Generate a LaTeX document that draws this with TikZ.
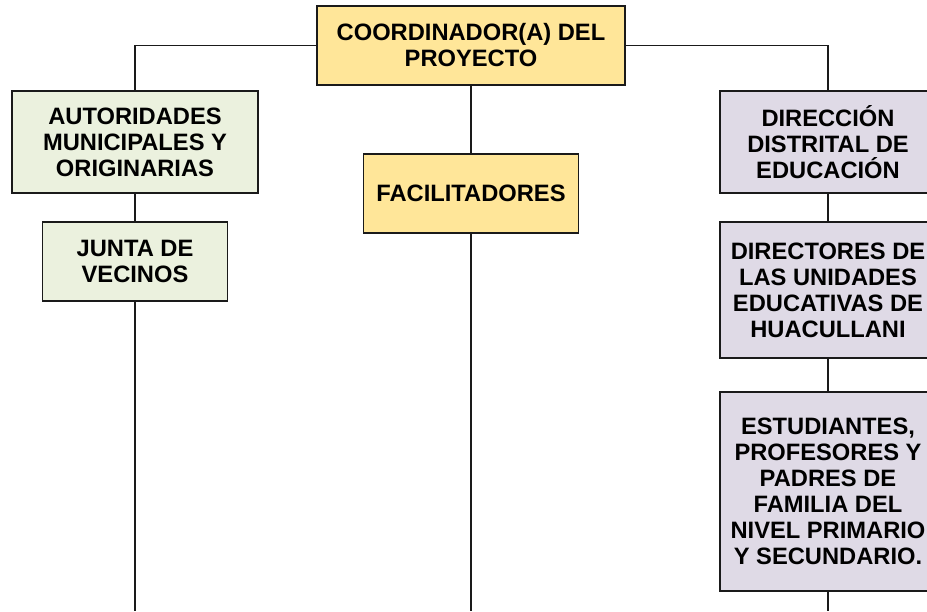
\documentclass[tikz,border=0pt]{standalone}
\usepackage{fontspec}
\setmainfont{Liberation Sans}
\definecolor{goldfill}{HTML}{FFE699}
\definecolor{greenfill}{HTML}{EBF1DE}
\definecolor{lavfill}{HTML}{DFDAE6}
\definecolor{edge}{HTML}{1A1A1A}
\tikzset{
  orgbox/.style={draw=edge, line width=1.2pt, rectangle, inner sep=0pt, align=center,
    font=\fontsize{23.7}{26}\selectfont\bfseries},
  gold/.style={orgbox, fill=goldfill},
  green/.style={orgbox, fill=greenfill},
  lav/.style={orgbox, fill=lavfill},
  link/.style={draw=edge, line width=1.2pt}
}
\begin{document}
\begin{tikzpicture}[x=1pt,y=-1pt]
\useasboundingbox (0,0) rectangle (927,611);
\clip (0,0) rectangle (927,611);
\node[gold, minimum width=308pt, minimum height=79pt] (coord) at (471,45.5) {COORDINADOR(A) DEL\\PROYECTO};
\node[green, minimum width=246pt, minimum height=102pt] (aut) at (135,142) {AUTORIDADES\\MUNICIPALES Y\\ORIGINARIAS};
\node[green, minimum width=185pt, minimum height=79pt] (junta) at (135,261.5) {JUNTA DE\\VECINOS};
\node[gold, minimum width=215pt, minimum height=79pt] (fac) at (471,193.5) {FACILITADORES};
\node[lav, minimum width=216pt, minimum height=102pt] (dir) at (828,142) {DIRECCIÓN\\DISTRITAL DE\\EDUCACIÓN};
\node[lav, minimum width=216pt, minimum height=136pt] (dirs) at (828,290) {DIRECTORES DE\\LAS UNIDADES\\EDUCATIVAS DE\\HUACULLANI};
\node[lav, minimum width=216pt, minimum height=199pt] (est) at (828,491.5) {ESTUDIANTES,\\PROFESORES Y\\PADRES DE\\FAMILIA DEL\\NIVEL PRIMARIO\\Y SECUNDARIO.};
\coordinate (endL) at (135,611);
\coordinate (endM) at (471,611);
\coordinate (endR) at (828,611);
\draw[link] (coord.west) -| (aut.north);
\draw[link] (coord.east) -| (dir.north);
\draw[link] (coord.south) -- (fac.north);
\draw[link] (aut.south) -- (junta.north);
\draw[link] (junta.south) -- (endL);
\draw[link] (fac.south) -- (endM);
\draw[link] (dir.south) -- (dirs.north);
\draw[link] (dirs.south) -- (est.north);
\draw[link] (est.south) -- (endR);
\end{tikzpicture}
\end{document}
